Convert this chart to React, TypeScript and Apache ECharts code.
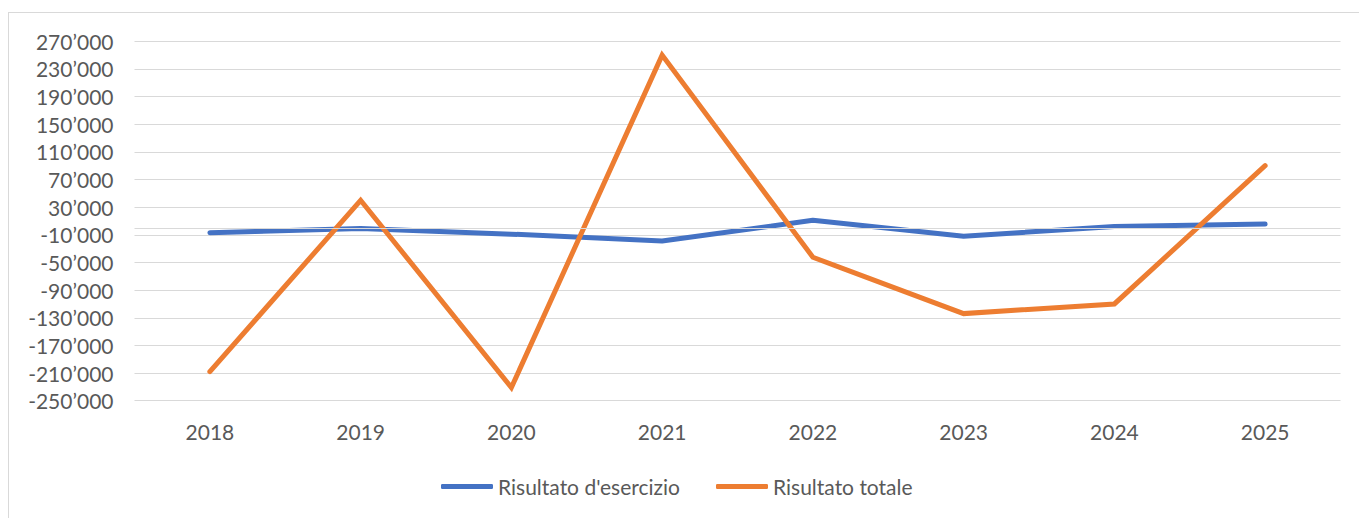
import React, { useEffect, useRef } from "react";
import * as echarts from "echarts";

const years = ["2018", "2019", "2020", "2021", "2022", "2023", "2024", "2025"];
const risultatoEsercizio = [-7000, -1000, -9000, -19000, 11000, -12000, 2000, 5500];
const risultatoTotale = [-208000, 40000, -231000, 250000, -42500, -124000, -110000, 90000];
const yMin = -250000;
const yMax = 270000;
const yStep = 40000;

const fmt = (v: number) => {
  const s = Math.abs(Math.round(v)).toString().replace(/\B(?=(\d{3})+(?!\d))/g, "\u2019");
  return (v < 0 ? "-" : "") + s;
};

export default function App() {
  const ref = useRef<HTMLDivElement>(null);
  useEffect(() => {
    if (!ref.current) return;
    const chart = echarts.init(ref.current, undefined, { renderer: "svg" });
    const font = "Lato, 'Open Sans', sans-serif";
    chart.setOption({
      animation: false,
      textStyle: { fontFamily: font },
      grid: { left: 125.5, right: 18.5, top: 28.3, bottom: 117.3, containLabel: false },
      legend: {
        left: 427,
        top: 458,
        icon: "roundRect",
        itemWidth: 52,
        itemHeight: 5,
        itemGap: 36,
        textStyle: { color: "#595959", fontSize: 21, fontFamily: font },
        data: ["Risultato d'esercizio", "Risultato totale"],
      },
      xAxis: {
        type: "category",
        data: years,
        boundaryGap: true,
        axisLine: { show: false, onZero: false },
        axisTick: { show: false },
        splitLine: { show: false },
        axisLabel: { color: "#595959", fontSize: 21, margin: 20, fontFamily: font },
      },
      yAxis: {
        type: "value",
        min: yMin,
        max: yMax,
        interval: yStep,
        axisLine: { show: false },
        axisTick: { show: false },
        splitLine: { show: true, lineStyle: { color: "#d9d9d9", width: 1 } },
        axisLabel: { color: "#595959", fontSize: 21, margin: 21, fontFamily: font, formatter: (v: number) => fmt(v) },
      },
      series: [
        {
          name: "Risultato d'esercizio",
          type: "line",
          data: risultatoEsercizio,
          symbol: "none",
          itemStyle: { color: "#4472C4" },
          lineStyle: { color: "#4472C4", width: 5, cap: "round", join: "round" },
          z: 3,
          markLine: {
            silent: true,
            symbol: ["none", "none"],
            label: { show: false },
            lineStyle: { color: "#d9d9d9", width: 1, type: "solid" },
            data: [{ yAxis: 0 }],
          },
        },
        {
          name: "Risultato totale",
          type: "line",
          data: risultatoTotale,
          symbol: "none",
          itemStyle: { color: "#ED7D31" },
          lineStyle: { color: "#ED7D31", width: 5, cap: "round", join: "miter" },
          z: 4,
        },
      ],
    });
    return () => chart.dispose();
  }, []);
  return (
    <div
      style={{
        position: "fixed",
        left: 8,
        top: 12,
        width: 1351,
        height: 506,
        borderLeft: "1px solid #d9d9d9",
        borderTop: "1px solid #d9d9d9",
        boxSizing: "border-box",
        background: "#fff",
      }}
    >
      <div ref={ref} style={{ width: 1350, height: 505 }} />
    </div>
  );
}
